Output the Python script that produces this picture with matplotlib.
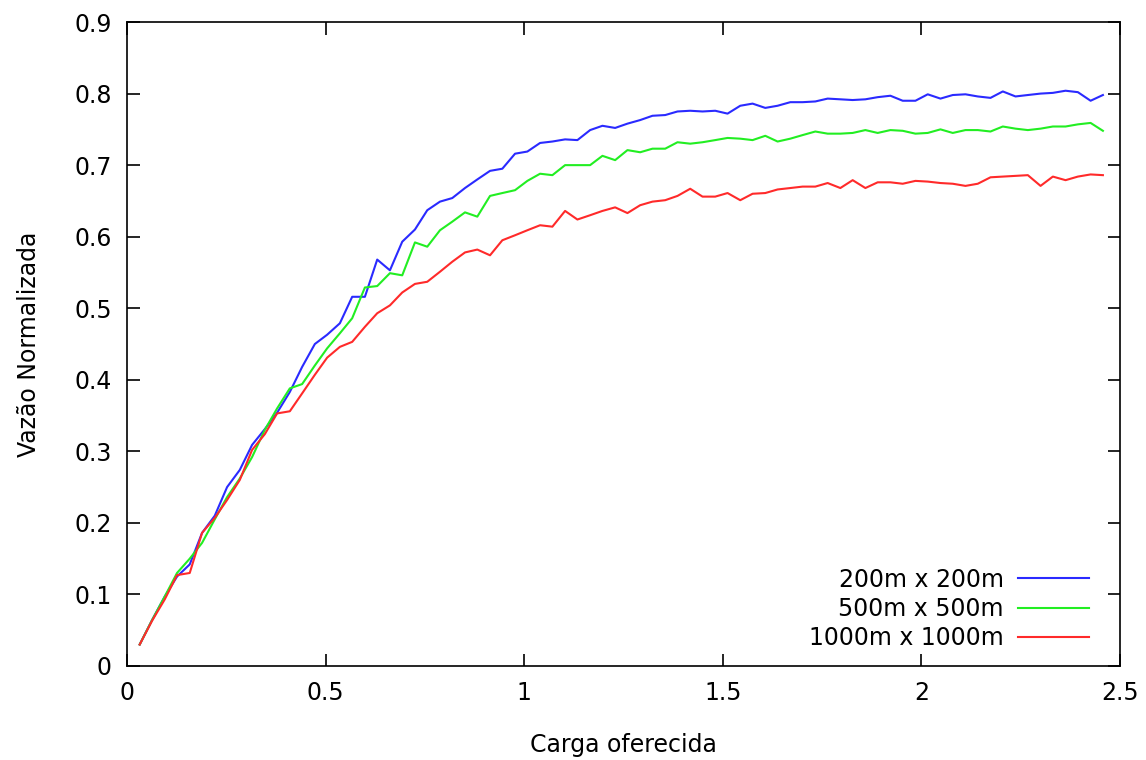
import numpy as np
import matplotlib as mpl
from matplotlib import pyplot as plt

# carga oferecida (pontos da simulacao)
carga = [0.032, 0.063, 0.095, 0.126, 0.158, 0.189, 0.221, 0.252, 0.284, 0.315,
         0.347, 0.378, 0.410, 0.441, 0.473, 0.504, 0.536, 0.567, 0.599, 0.630,
         0.662, 0.693, 0.725, 0.756, 0.788, 0.819, 0.851, 0.882, 0.914, 0.945,
         0.977, 1.008, 1.040, 1.071, 1.103, 1.134, 1.166, 1.197, 1.229, 1.260,
         1.292, 1.323, 1.355, 1.386, 1.418, 1.449, 1.481, 1.512, 1.544, 1.575,
         1.607, 1.638, 1.670, 1.701, 1.733, 1.764, 1.796, 1.827, 1.859, 1.890,
         1.922, 1.953, 1.985, 2.016, 2.048, 2.079, 2.111, 2.142, 2.174, 2.205,
         2.237, 2.268, 2.300, 2.331, 2.363, 2.394, 2.426, 2.457]

vazao_200 = [0.030, 0.064, 0.097, 0.125, 0.142, 0.186, 0.210, 0.250, 0.274, 0.309,
             0.331, 0.354, 0.383, 0.418, 0.450, 0.463, 0.479, 0.516, 0.516, 0.568,
             0.553, 0.593, 0.610, 0.637, 0.649, 0.654, 0.668, 0.680, 0.692, 0.695,
             0.716, 0.719, 0.731, 0.733, 0.736, 0.735, 0.749, 0.755, 0.752, 0.758,
             0.763, 0.769, 0.770, 0.775, 0.776, 0.775, 0.776, 0.772, 0.783, 0.786,
             0.780, 0.783, 0.788, 0.788, 0.789, 0.793, 0.792, 0.791, 0.792, 0.795,
             0.797, 0.790, 0.790, 0.799, 0.793, 0.798, 0.799, 0.796, 0.794, 0.803,
             0.796, 0.798, 0.800, 0.801, 0.804, 0.802, 0.790, 0.798]

vazao_500 = [0.030, 0.064, 0.097, 0.130, 0.150, 0.172, 0.205, 0.236, 0.262, 0.292,
             0.330, 0.360, 0.388, 0.394, 0.420, 0.444, 0.465, 0.486, 0.529, 0.531,
             0.549, 0.546, 0.592, 0.586, 0.609, 0.621, 0.634, 0.628, 0.657, 0.661,
             0.665, 0.678, 0.688, 0.686, 0.700, 0.700, 0.700, 0.713, 0.707, 0.721,
             0.718, 0.723, 0.723, 0.732, 0.730, 0.732, 0.735, 0.738, 0.737, 0.735,
             0.741, 0.733, 0.737, 0.742, 0.747, 0.744, 0.744, 0.745, 0.749, 0.745,
             0.749, 0.748, 0.744, 0.745, 0.750, 0.745, 0.749, 0.749, 0.747, 0.754,
             0.751, 0.749, 0.751, 0.754, 0.754, 0.757, 0.759, 0.748]

vazao_1000 = [0.030, 0.063, 0.093, 0.127, 0.130, 0.186, 0.207, 0.232, 0.260, 0.302,
              0.324, 0.353, 0.356, 0.381, 0.407, 0.431, 0.446, 0.453, 0.474, 0.493,
              0.504, 0.522, 0.534, 0.537, 0.551, 0.565, 0.578, 0.582, 0.574, 0.595,
              0.602, 0.609, 0.616, 0.614, 0.636, 0.624, 0.630, 0.636, 0.641, 0.633,
              0.644, 0.649, 0.651, 0.657, 0.667, 0.656, 0.656, 0.661, 0.651, 0.660,
              0.661, 0.666, 0.668, 0.670, 0.670, 0.675, 0.668, 0.679, 0.668, 0.676,
              0.676, 0.674, 0.678, 0.677, 0.675, 0.674, 0.671, 0.674, 0.683, 0.684,
              0.685, 0.686, 0.671, 0.684, 0.679, 0.684, 0.687, 0.686]

series = [('200m x 200m', vazao_200, '#2a2aff'),
          ('500m x 500m', vazao_500, '#22ee22'),
          ('1000m x 1000m', vazao_1000, '#ff2a2a')]

mpl.rcParams['font.family'] = 'DejaVu Sans'
mpl.rcParams['font.size'] = 17

fig = plt.figure(figsize=(11.46, 7.6), dpi=100)
ax = fig.add_axes([0.1108, 0.1237, 0.8665, 0.8473])

for nome, vals, cor in series:
	ax.plot(carga, vals, color=cor, linewidth=1.5, label=nome)

ax.set_xlim(0, 2.5)
ax.set_ylim(0, 0.9)
ax.set_xticks(np.arange(0, 2.51, 0.5))
ax.set_xticklabels(['0', '0.5', '1', '1.5', '2', '2.5'])
ax.set_yticks(np.arange(0, 0.91, 0.1))
ax.set_yticklabels(['0', '0.1', '0.2', '0.3', '0.4', '0.5', '0.6', '0.7', '0.8', '0.9'])
ax.tick_params(direction='in', length=9, width=1.2, top=True, right=True, pad=11)
for s in ax.spines.values():
	s.set_linewidth(1.2)

ax.set_xlabel('Carga oferecida', labelpad=20)
ax.set_ylabel('Vazão Normalizada', labelpad=24)

ax.legend(loc='lower right', frameon=False, markerfirst=False, handlelength=3.0,
	handletextpad=0.6, labelspacing=0.22, borderaxespad=0, bbox_to_anchor=(0.978, 0.01))

fig.savefig('out.png', dpi=100)
